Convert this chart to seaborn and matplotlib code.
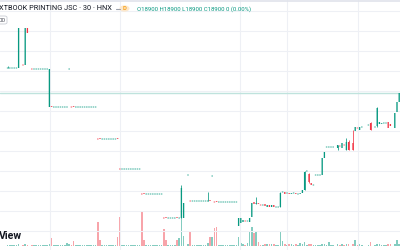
import numpy as np
import pandas as pd
import matplotlib
matplotlib.use("Agg")
import matplotlib.pyplot as plt
import seaborn as sns
from matplotlib.patches import FancyBboxPatch, Circle

title = "XTBOOK PRINTING JSC · 30 · HNX"
ohlc_label = "O18900 H18900 L18900 C18900 0 (0.00%)"
last_price = 18900
N = None

opens = [
    N, N, N, 20150, 20150, 20150, 20150, 20150, 20150, N,
    20300, 20300, 22150, N, 20100, 20100, 20100, 20100, 20100, 20100,
    20100, 20100, 18200, 18250, 18200, 18200, 18200, 18200, 18200, 18200,
    18200, 20100, 18200, 18250, 18200, 18200, 18200, 18200, 18200, 18200,
    18200, 18200, 18200, 18200, 16600, 16650, 16600, 16600, 16600, 16600,
    16600, 16600, 16600, 16650, 15100, 15100, 15100, 15100, 15100, 15100,
    15100, 15100, 15100, 15100, 13850, 13900, 13850, 13850, 13850, 13850,
    13850, 13850, 13850, 13850, 12650, 12700, 12650, 12650, 12650, 12650,
    12700, 12650, 12650, 12650, N, 14800, 13500, 13500, 13500, 13500,
    13500, 13500, 13500, 13500, 13500, 13550, 14750, 13450, 13500, 13450,
    13450, 13450, 13450, 13450, 13450, 13450, 13450, 13450, 12250, 12400,
    12450, 12500, 12500, 12450, 12700, 13450, 13350, 13400, 13300, 13300,
    13350, 13200, 13300, 13200, 13300, 13200, 13200, 13200, 13950, 13950,
    13900, 13900, 13850, 13900, 13900, 13850, 13850, 13900, 14050, 15000,
    14850, 14400, 14300, 14800, 14800, 14800, 14800, 15650, 16200, 16200,
    16200, 16200, N, 16150, 16250, 16150, 16300, 16050, 16450, N,
    16400, 17000, 17150, 17050, 17200, N, N, 17300, 17400, N,
    17200, 17250, 17350, 17350, 17400, 17400, 17450, 17350, N, 17150,
    17950, 18450,
]
highs = [
    N, N, N, 20250, 20150, 20150, 20150, 20150, 22150, N,
    20300, 22150, 22150, N, 20100, 20100, 20100, 20100, 20100, 20100,
    20100, 20100, 20100, 18250, 18200, 18200, 18200, 18200, 18200, 18200,
    18200, 20100, 18200, 18250, 18200, 18200, 18200, 18200, 18200, 18200,
    18200, 18200, 18200, 18200, 16600, 16650, 16600, 16600, 16600, 16600,
    16600, 16600, 16600, 16650, 15100, 15100, 15100, 15100, 15100, 15100,
    15100, 15100, 15100, 15100, 13850, 13900, 13850, 13850, 13850, 13850,
    13850, 13850, 13850, 13850, 12650, 12700, 12650, 12650, 12650, 12650,
    12700, 12650, 14300, 13400, N, 14800, 13500, 13500, 13500, 13500,
    13500, 13500, 13500, 13500, 13950, 13550, 14750, 13450, 13500, 13450,
    13450, 13450, 13450, 13450, 13450, 13450, 13450, 13450, 12650, 12650,
    12550, 12500, 12500, 12650, 13400, 13450, 13700, 13400, 13300, 13300,
    13350, 13300, 13300, 13300, 13300, 13200, 13200, 13950, 13950, 13950,
    13900, 13900, 13900, 13900, 13900, 13850, 13900, 14050, 15000, 15000,
    14900, 14400, 14300, 14800, 14800, 14800, 15650, 15950, 16200, 16200,
    16200, 16200, N, 16300, 16250, 16400, 16300, 16650, 16550, N,
    17050, 17200, 17150, 17200, 17200, N, N, 17300, 17450, N,
    17200, 18200, 17450, 17400, 17400, 17400, 17450, 17350, N, 17900,
    18450, 18900,
]
lows = [
    N, N, N, 20150, 20150, 20150, 20150, 20150, 20150, N,
    20300, 20300, 21900, N, 20100, 20100, 20100, 20100, 20100, 20100,
    20100, 20100, 18200, 18200, 18200, 18200, 18200, 18200, 18200, 18200,
    18200, 20100, 18200, 18200, 18200, 18200, 18200, 18200, 18200, 18200,
    18200, 18200, 18200, 18200, 16600, 16600, 16600, 16600, 16600, 16600,
    16600, 16600, 16600, 16600, 15100, 15100, 15100, 15100, 15100, 15100,
    15100, 15100, 15100, 15100, 13850, 13850, 13850, 13850, 13850, 13850,
    13850, 13850, 13850, 13850, 12650, 12650, 12650, 12650, 12650, 12650,
    12650, 12650, 12650, 12650, N, 14800, 13500, 13500, 13500, 13500,
    13500, 13500, 13500, 13500, 13500, 13500, 14750, 13450, 13450, 13450,
    13450, 13450, 13450, 13450, 13450, 13450, 13450, 13450, 12250, 12400,
    12450, 12500, 12500, 12450, 12700, 13350, 13350, 13350, 13300, 13300,
    13250, 13200, 13200, 13200, 13200, 13200, 13200, 13200, 13950, 13850,
    13900, 13850, 13850, 13900, 13850, 13850, 13850, 13900, 14050, 15000,
    14400, 14300, 14300, 14800, 14800, 14800, 14800, 15650, 16200, 16200,
    16200, 16200, N, 16050, 16250, 16150, 16300, 16050, 16050, N,
    16050, 17000, 17150, 17050, 17200, N, N, 17300, 17050, N,
    17200, 17200, 17350, 17350, 17400, 17400, 17150, 17250, N, 17150,
    17950, 18450,
]
closes = [
    N, N, N, 20150, 20150, 20150, 20150, 20150, 22150, N,
    20300, 22150, 21900, N, 20100, 20100, 20100, 20100, 20100, 20100,
    20100, 20100, 20100, 18200, 18200, 18200, 18200, 18200, 18200, 18200,
    18200, 20100, 18200, 18200, 18200, 18200, 18200, 18200, 18200, 18200,
    18200, 18200, 18200, 18200, 16600, 16600, 16600, 16600, 16600, 16600,
    16600, 16600, 16600, 16600, 15100, 15100, 15100, 15100, 15100, 15100,
    15100, 15100, 15100, 15100, 13850, 13850, 13850, 13850, 13850, 13850,
    13850, 13850, 13850, 13850, 12650, 12650, 12650, 12650, 12650, 12650,
    12650, 12650, 14150, 13400, N, 14800, 13500, 13500, 13500, 13500,
    13500, 13500, 13500, 13500, 13500, 13500, 14750, 13450, 13450, 13450,
    13450, 13450, 13450, 13450, 13450, 13450, 13450, 13450, 12650, 12650,
    12550, 12500, 12500, 12650, 13400, 13350, 13400, 13350, 13300, 13300,
    13250, 13300, 13200, 13300, 13200, 13200, 13200, 13900, 13950, 13850,
    13900, 13850, 13900, 13900, 13850, 13850, 13900, 14050, 14950, 15000,
    14450, 14300, 14300, 14800, 14800, 14800, 15650, 15950, 16200, 16200,
    16200, 16200, N, 16300, 16250, 16400, 16300, 16450, 16050, N,
    16050, 17200, 17150, 17200, 17200, N, N, 17300, 17050, N,
    17200, 18150, 17450, 17400, 17400, 17400, 17150, 17250, N, 17900,
    18450, 18900,
]
# volume, thousand shares
volumes = [
    N, N, N, 1, 1, 1, 1, 1, 2, N,
    1, 2, 1, N, 1, 1, 1, 1, 1, 1,
    1, 1, 2, 8, 1, 1, 1, 1, 1, 1,
    3, 2, 1, 5, 1, 1, 1, 1, 1, 1,
    1, 1, 1, 1, 24, 6, 1, 1, 1, 1,
    1, 1, 1, 9, 29, 1, 1, 1, 1, 1,
    1, 1, 1, 1, 34, 6, 1, 1, 1, 1,
    1, 1, 1, 1, 17, 6, 1, 1, 1, 1,
    6, 8, 30, 10, N, 2, 15, 1, 1, 1,
    1, 1, 1, 1, 3, 9, 9, 18, 19, 1,
    1, 1, 1, 1, 1, 1, 1, 1, 9, 3,
    2, 1, 3, 14, 19, 13, 15, 4, 1, 1,
    2, 2, 2, 2, 2, 1, 1, 15, 5, 2,
    1, 2, 2, 1, 2, 1, 3, 2, 4, 1,
    2, 2, 1, 1, 1, 1, 2, 2, 1, 4,
    1, 1, N, 2, 1, 2, 1, 2, 2, N,
    2, 6, 1, 2, 1, N, N, 1, 4, N,
    1, 2, 2, 1, 1, 1, 2, 2, N, 2,
    6, 2,
]
session_breaks = [22.3, 54.1, 108.6, 130.0, 162.3]

UP, DN = "#089981", "#F23645"
VUP, VDN = "#84ccc0", "#f8a4aa"
TEXT = "#131722"

sns.set_theme(style="white")
plt.rcParams["font.family"] = ["Roboto", "DejaVu Sans"]

n = len(closes)
df = pd.DataFrame({"i": np.arange(n), "o": opens, "h": highs, "l": lows,
                   "c": closes, "v": volumes}, dtype=float)
prev = df["c"].ffill().shift(1)
is_up = (df["c"] > df["o"]) | ((df["c"] == df["o"]) & ~(df["c"] < prev))
df["dir"] = np.where(is_up, "up", "down")

W, H = 400, 250
fig = plt.figure(figsize=(4, 2.5), dpi=100)
fig.patch.set_facecolor("white")
axv = fig.add_axes([0, 0, 1, 1])
ax = axv.twinx()

xlim = (-1 / 2.2, 399 / 2.2)
ylim = (11050, 23550)

# volume
vdf = df.dropna(subset=["v"])
sns.barplot(data=vdf, x="i", y="v", hue="dir", palette={"up": VUP, "down": VDN},
            native_scale=True, dodge=False, width=0.7, saturation=1,
            errorbar=None, legend=False, ax=axv, linewidth=0)
axv.set_xlim(*xlim)
axv.set_ylim(-4, 246)
axv.set_axis_off()

# grid
for xb in session_breaks:
    ax.axvline(xb, color="#eef0f5", lw=0.8, zorder=0)
for p in range(12000, 24000, 1000):
    ax.axhline(p, color="#eef0f5", lw=0.8, zorder=0)
ax.axhline(last_price, color="#bfe3dd", lw=1.0, zorder=1)

# candles
cdf = df.dropna(subset=["c"])
for _, r in cdf.iterrows():
    col = UP if r["dir"] == "up" else DN
    if r["h"] > max(r["o"], r["c"]) or r["l"] < min(r["o"], r["c"]):
        ax.vlines(r["i"], r["l"], r["h"], color=col, lw=0.55, zorder=3)
    lo = min(r["o"], r["c"])
    body = abs(r["c"] - r["o"])
    if body < 60:
        ax.bar(r["i"], 50, bottom=lo - 25 + body / 2, width=0.68, color=col,
               alpha=0.8, linewidth=0, zorder=4, snap=False)
    else:
        ax.bar(r["i"], body, bottom=lo, width=0.6, color=col, linewidth=0,
               zorder=4, snap=False)
ax.set_xlim(*xlim)
ax.set_ylim(*ylim)
ax.set_axis_off()

def px(x, y):
    return x / W, 1 - y / H

# top border
fig.add_artist(plt.Line2D([0, 1], [1 - 0.6 / H, 1 - 0.6 / H], color="#e0e3eb", lw=1.2))
fig.text(*px(-1, 9), title, fontsize=5.35, color=TEXT, ha="left", va="center")
fig.add_artist(plt.Line2D([116 / W, 120 / W], [1 - 8.5 / H] * 2, color="#9aa0ab", lw=0.8))
fig.add_artist(Circle(px(124.5, 8.5), 5 / W, transform=fig.transFigure,
                      facecolor="#fde8cc", edgecolor="none"))
fig.text(*px(124.5, 8.8), "D", fontsize=4.2, color="#f7a21b", ha="center", va="center",
         fontweight="bold")
fig.text(*px(137, 9), ohlc_label, fontsize=4.35, color=UP, ha="left", va="center")
box = FancyBboxPatch(px(-6, 24), 13 / W, 8 / H, boxstyle="round,pad=0,rounding_size=0.006",
                     transform=fig.transFigure, facecolor="white", edgecolor="#c9ccd4", lw=0.6)
fig.add_artist(box)
fig.text(*px(2.5, 20), "00", fontsize=4.5, color="#50535e", ha="center", va="center")
fig.text(*px(-1, 236), "View", fontsize=7.6, color=TEXT, ha="left", va="center",
         fontweight="bold")

fig.savefig("out.png", dpi=100, facecolor="white")
